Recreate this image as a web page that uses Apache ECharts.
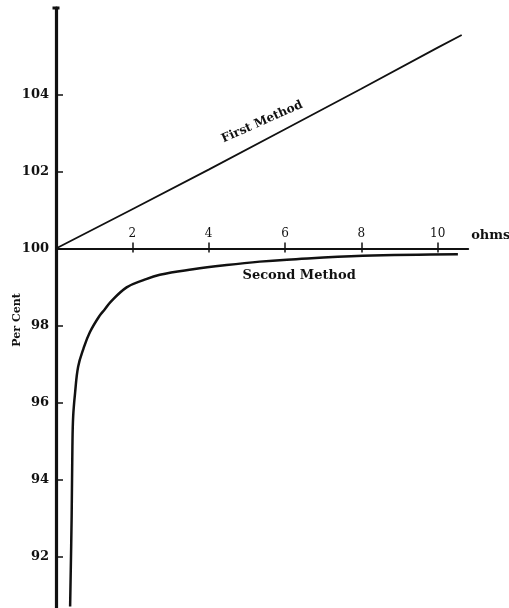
<!DOCTYPE html>
<html>
<head>
<meta charset="utf-8">
<script src="https://cdn.jsdelivr.net/npm/echarts@6/dist/echarts.min.js"></script>
<style>
  html, body { margin: 0; padding: 0; background: #ffffff; }
  #chart { width: 509px; height: 608px; }
</style>
</head>
<body>
<div id="chart"></div>
<script>
// ---- data ----
const ohmTicks = [2, 4, 6, 8, 10];
const percentTicks = [92, 94, 96, 98, 100, 102, 104];

const firstOhms    = [0, 2, 4, 6, 8, 10, 10.63];
const firstPercent = [100, 101.02, 102.05, 103.1, 104.15, 105.22, 105.55];

const secondOhms    = [0.37, 0.41, 0.43, 0.45, 0.50, 0.58, 0.72, 0.89, 1.14, 1.28, 1.42, 1.85, 2.29, 2.72, 3.59, 4.47, 5.34, 6.05, 8.04, 10.53];
const secondPercent = [90.70, 93.04, 94.86, 95.64, 96.25, 96.93, 97.40, 97.83, 98.25, 98.42, 98.60, 98.99, 99.18, 99.32, 99.46, 99.57, 99.66, 99.71, 99.81, 99.85];

const seriesNames = ['First Method', 'Second Method'];
const xName = 'ohms';
const yName = 'Per Cent';

// ---- layout ----
const X_MIN = 0, X_MAX = 10.8;
const Y_MIN = 90.66, Y_MAX = 106.25;
const BASE = 100;
const GRID = { left: 56, top: 8, width: 412.2, height: 600 };
const INK = '#111111';
const serif = 'DejaVu Serif';

// the ohm axis crosses the per-cent axis at BASE: shift it up from the grid bottom
const xAxisOffset = -GRID.height * (BASE - Y_MIN) / (Y_MAX - Y_MIN);

const zip = (xs, ys) => xs.map((x, i) => [x, ys[i]]);

const chart = echarts.init(document.getElementById('chart'), null, { renderer: 'canvas' });

const option = {
  backgroundColor: '#ffffff',
  animation: false,
  grid: Object.assign({ containLabel: false, outerBoundsMode: 'none' }, GRID),
  xAxis: [
    {
      type: 'value', min: X_MIN, max: X_MAX, position: 'bottom', offset: xAxisOffset,
      axisLine: { show: true, onZero: false, lineStyle: { color: INK, width: 2 } },
      axisTick: { show: true, inside: false, length: 4, lineStyle: { color: INK, width: 1.5 }, customValues: ohmTicks },
      axisLabel: { show: true, inside: true, margin: 9, fontFamily: serif, fontSize: 12, color: INK, customValues: ohmTicks },
      splitLine: { show: false }
    },
    {
      type: 'value', min: X_MIN, max: X_MAX, position: 'bottom', offset: xAxisOffset,
      axisLine: { show: false, onZero: false },
      axisTick: { show: true, inside: true, length: 6, lineStyle: { color: INK, width: 1.5 }, customValues: ohmTicks },
      axisLabel: { show: false },
      splitLine: { show: false }
    }
  ],
  yAxis: [
    {
      type: 'value', min: Y_MIN, max: Y_MAX, position: 'left',
      name: yName, nameLocation: 'middle', nameGap: 33, nameRotate: 90, nameMoveOverlap: false,
      nameTextStyle: { fontFamily: serif, fontWeight: 'bold', fontSize: 11, color: INK, padding: [0, 24, 0, 0] },
      axisLine: { show: true, onZero: false, symbol: ['none', 'rect'], symbolSize: [7, 3], lineStyle: { color: INK, width: 3.2 } },
      axisTick: { show: true, inside: true, length: 7, lineStyle: { color: INK, width: 1.5 }, customValues: percentTicks },
      axisLabel: { show: true, margin: 7, fontFamily: serif, fontWeight: 'bold', fontSize: 13, color: INK, customValues: percentTicks },
      splitLine: { show: false }
    }
  ],
  series: [
    {
      name: seriesNames[0], type: 'line', xAxisIndex: 0, yAxisIndex: 0,
      data: zip(firstOhms, firstPercent), showSymbol: false, symbol: 'none',
      lineStyle: { color: INK, width: 1.8 }, z: 3
    },
    {
      name: seriesNames[1], type: 'line', xAxisIndex: 0, yAxisIndex: 0,
      data: zip(secondOhms, secondPercent), showSymbol: false, symbol: 'none',
      smooth: 0.4,
      lineStyle: { color: INK, width: 2.5 }, z: 3
    }
  ]
};
chart.setOption(option);

// text labels anchored in data coordinates
const firstAnchor = [5.40, 103.29];
const secondAnchor = [6.37, 99.29];
const nameAnchor = [X_MAX, BASE];
const p1 = chart.convertToPixel({ gridIndex: 0 }, firstAnchor);
const p2 = chart.convertToPixel({ gridIndex: 0 }, secondAnchor);
const p3 = chart.convertToPixel({ gridIndex: 0 }, nameAnchor);
chart.setOption({
  graphic: [
    {
      type: 'text', x: p1[0], y: p1[1], rotation: 24 * Math.PI / 180,
      style: { text: seriesNames[0], font: 'bold 12px "DejaVu Serif"', fill: INK, align: 'center', verticalAlign: 'middle' }
    },
    {
      type: 'text', x: p2[0], y: p2[1],
      style: { text: seriesNames[1], font: 'bold 13px "DejaVu Serif"', fill: INK, align: 'center', verticalAlign: 'middle' }
    },
    {
      type: 'text', x: p3[0] + 3, y: p3[1] - 13,
      style: { text: xName, font: 'bold 13px "DejaVu Serif"', fill: INK, align: 'left', verticalAlign: 'middle' }
    }
  ]
});
</script>
</body>
</html>
